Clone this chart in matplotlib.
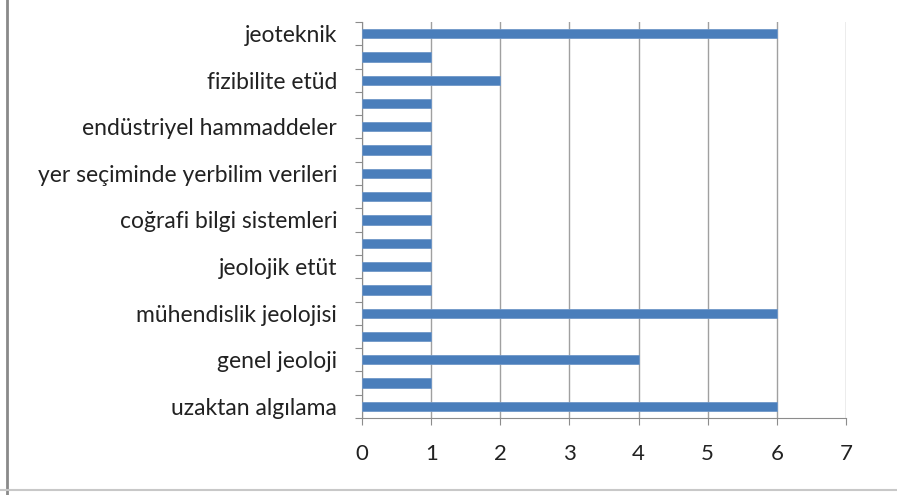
import matplotlib.pyplot as plt
from matplotlib.lines import Line2D

# categories from top to bottom (unlabeled ones have no text on the chart)
labels = ["jeoteknik", "", "fizibilite etüd", "", "endüstriyel hammaddeler", "",
          "yer seçiminde yerbilim verileri", "", "coğrafi bilgi sistemleri", "",
          "jeolojik etüt", "", "mühendislik jeolojisi", "", "genel jeoloji", "",
          "uzaktan algılama"]
values = [6, 1, 2, 1, 1, 1, 1, 1, 1, 1, 1, 1, 6, 1, 4, 1, 6]
x_ticks = [0, 1, 2, 3, 4, 5, 6, 7]

plt.rcParams['font.family'] = ['Lato', 'DejaVu Sans']

fig = plt.figure(figsize=(8.97, 4.95), dpi=100)
ax = fig.add_axes([362 / 897, 1 - 418 / 495, 484 / 897, 396 / 495])

n = len(labels)
ypos = list(range(n))[::-1]
ax.barh(ypos, values, height=0.4, color='#4a7ebb', edgecolor='#6f97c8', linewidth=0.6, zorder=3)

ax.set_xlim(0, 7)
ax.set_ylim(-0.5, n - 0.5)
ax.set_xticks(x_ticks)
ax.set_xticklabels([str(t) for t in x_ticks], fontsize=16, color='#222222')
ax.tick_params(axis='x', length=5, color='#8c8c8c', pad=14)

ax.set_yticks([i - 0.5 for i in range(n + 1)])
ax.set_yticklabels([])
ax.set_yticks(ypos, minor=True)
ax.set_yticklabels(labels, minor=True, fontsize=16.5, color='#222222')
ax.tick_params(axis='y', which='major', length=5, color='#8c8c8c')
ax.tick_params(axis='y', which='minor', length=0, pad=18)

ax.grid(axis='x', color='#a0a0a0', linewidth=1.0, zorder=0)
for s in ['top', 'right']:
    ax.spines[s].set_visible(False)
for s in ['left', 'bottom']:
    ax.spines[s].set_color('#8c8c8c')

# outer frame lines seen on the left and bottom of the picture
fig.add_artist(Line2D([7 / 897, 7 / 897], [0, 1], color='#8a8a8a', linewidth=2))
fig.add_artist(Line2D([0, 1], [5 / 495, 5 / 495], color='#c8c8c8', linewidth=1.5))

fig.savefig('out.png', dpi=100)
